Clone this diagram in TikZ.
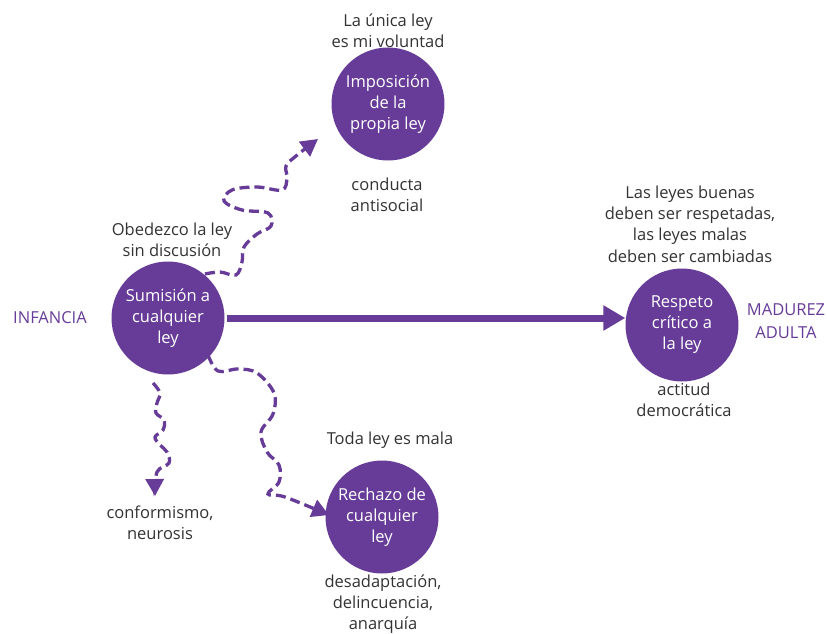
\documentclass[tikz,border=0pt]{standalone}
\usepackage{fontspec}
\setmainfont{Open Sans}
\usetikzlibrary{arrows.meta}
\definecolor{lav}{HTML}{673C99}
\definecolor{txt}{HTML}{333333}
\begin{document}
\begin{tikzpicture}[x=1pt,y=-1pt,
  bubble/.style={circle,fill=lav,minimum size=113pt,inner sep=0pt,text=white,align=center,font=\fontsize{16.5}{21}\selectfont},
  lbl/.style={align=center,text=txt,font=\fontsize{16.5}{21.3}\selectfont,inner sep=0pt},
  stage/.style={align=center,text=lav,font=\fontsize{16.5}{22.5}\selectfont,inner sep=0pt},
  wave/.style={lav,line width=3.3pt,dash pattern=on 10pt off 5pt,-{Triangle[length=17pt,width=18pt]}},
  mainarrow/.style={lav,line width=7pt,-{Triangle[length=22pt,width=24pt]}}]
\useasboundingbox (0,0) rectangle (827,634);
\fill[white] (0,0) rectangle (827,634);

\node[bubble] (sum) at (168,318) {Sumisión a\\cualquier\\ley};
\node[bubble] (imp) at (388,104) {Imposición\\de la\\propia ley};
\node[bubble] (res) at (682,325) {Respeto\\crítico a\\la ley};
\node[bubble] (rec) at (382,517) {Rechazo de\\cualquier\\ley};

\node[lbl] (t1) at (388,31) {La única ley\\es mi voluntad};
\node[lbl] (t2) at (387,195) {conducta\\antisocial};
\node[lbl] (t3) at (172,240) {Obedezco la ley\\sin discusión};
\node[stage] (inf) at (50,318) {INFANCIA};
\node[lbl] (t4) at (690,224) {Las leyes buenas\\deben ser respetadas,\\las leyes malas\\deben ser cambiadas};
\node[stage] (mad) at (786,321) {MADUREZ\\ADULTA};
\node[lbl] (t5) at (684,400) {actitud\\democrática};
\node[lbl] (t6) at (390,440) {Toda ley es mala};
\node[lbl] (t7) at (160,523) {conformismo,\\neurosis};
\node[lbl] (t8) at (383,604) {desadaptación,\\delincuencia,\\anarquía};

\draw[mainarrow] ([xshift=2pt]sum.east) -- (sum.east -| res.west);

\coordinate (a0) at (205,274);
\coordinate (a1) at (318,139);
\draw[wave] plot[smooth,tension=0.6] coordinates {(a0) (220,272) (236,275) (242,262) (244,247) (257,234) (271,226) (268,213) (242,210) (224,201) (232,190) (257,187) (282,190) (287,178) (286,166) (296,156) (a1)};

\coordinate (b0) at (153,383);
\coordinate (b1) at (155,496);
\draw[wave] plot[smooth,tension=0.6] coordinates {(b0) (160,393) (157,403) (156,413) (164,420) (163,430) (155,437) (160,445) (167,452) (169,463) (157,472) (b1)};

\coordinate (c0) at (208,355);
\coordinate (c1) at (329,515);
\draw[wave] plot[smooth,tension=0.6] coordinates {(c0) (218,371) (238,369) (257,373) (274,393) (273,414) (261,432) (267,452) (279,465) (279,482) (268,494) (285,497) (c1)};
\end{tikzpicture}
\end{document}
